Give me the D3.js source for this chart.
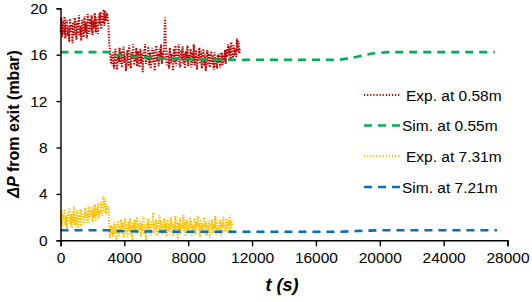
<!DOCTYPE html>
<html><head><meta charset="utf-8">
<script src="https://cdn.jsdelivr.net/npm/d3@7"></script>
<style>
html,body{margin:0;padding:0;background:#fff;}
svg{display:block;font-family:"Liberation Sans",Arial,sans-serif;}
</style></head>
<body><svg id="chart" width="532" height="302"></svg>
<script>
// ---- data ----
const xTicks = [0,4000,8000,12000,16000,20000,24000,28000];
const yTicks = [0,4,8,12,16,20];
const expStep = 50; // s between experimental samples
const expRed = [
18.0,19.2,17.5,18.9,17.8,19.3,17.4,18.7,19.0,17.6,
18.5,17.1,19.1,17.9,18.6,17.0,18.8,17.7,19.2,18.0,
17.3,18.9,17.8,19.4,17.6,18.5,17.2,19.0,18.1,17.5,
19.3,17.9,18.8,17.4,19.5,18.2,17.8,19.1,18.0,19.4,
17.7,18.9,18.3,19.6,17.9,19.2,18.4,17.8,19.5,18.6,
19.7,18.2,19.4,18.7,19.9,18.5,19.8,18.9,19.6,19.3,
18.6,17.0,16.4,15.2,16.0,
15.0,16.2,14.8,15.9,16.5,15.1,14.7,16.0,15.4,16.6,
15.2,16.3,14.9,15.8,16.7,15.3,16.1,14.6,15.7,16.4,
15.0,16.8,15.5,14.8,16.2,15.6,16.9,15.1,16.0,15.4,
16.6,15.0,16.3,15.7,14.9,16.5,15.3,16.1,14.5,16.4,
15.8,16.9,15.2,16.0,15.5,16.7,15.1,16.2,14.8,15.9,
16.6,15.3,16.4,14.6,15.8,16.8,15.4,16.1,15.0,16.5,
15.6,16.9,15.2,16.3,15.8,17.0,
19.2,16.4,
15.1,16.3,15.5,14.8,16.6,15.2,16.1,15.7,14.6,16.5,
15.3,16.8,15.0,16.2,15.6,16.9,15.1,14.9,16.4,15.5,
16.7,15.2,16.1,14.8,16.3,15.4,16.8,15.0,16.0,15.6,
16.5,14.9,16.2,15.3,16.9,15.1,15.8,16.4,14.7,16.0,
15.5,16.6,15.2,16.3,14.8,15.9,16.5,15.1,16.0,14.6,
15.7,16.4,15.0,16.1,14.9,15.8,16.3,15.2,15.9,14.7,
16.2,15.0,15.7,14.8,16.0,15.3,16.1,14.9,15.6,16.2,
15.1,16.0,15.4,16.4,15.2,16.5,
15.8,16.9,16.0,16.7,15.6,17.1,16.2,15.7,16.8,15.9,
16.5,15.8,17.4,16.3,17.2,16.1,16.6
];
const expYellow = [
1.5,2.6,1.2,2.3,1.8,2.7,1.3,2.1,1.0,2.4,
1.7,2.8,1.4,2.2,1.1,2.5,1.6,2.9,1.3,2.0,
1.2,2.6,1.0,2.2,1.5,2.7,1.1,2.3,1.8,2.5,
1.4,2.8,1.9,2.4,1.5,3.0,1.8,2.6,2.1,2.9,
1.6,2.7,2.0,3.1,1.7,2.8,2.2,3.2,1.9,2.6,
2.3,3.3,2.1,3.0,3.8,2.4,3.5,2.2,3.1,2.6,
2.9,1.4,0.2,1.3,0.5,
1.2,0.3,1.6,0.6,1.4,0.0,1.1,1.7,0.4,1.3,
0.7,1.8,0.5,1.5,0.2,1.2,1.9,0.6,1.4,0.3,
1.6,0.8,1.9,0.4,1.3,0.0,1.5,0.7,1.8,0.5,
1.2,2.0,0.6,1.4,0.9,1.7,0.3,1.5,0.8,2.1,
0.5,1.3,0.0,1.6,0.7,1.9,0.9,1.4,0.4,1.7,
1.1,2.4,0.6,1.5,0.8,1.8,0.4,1.6,1.0,2.2,
0.7,1.7,0.5,1.4,0.9,1.9,
0.6,1.5,
0.3,1.8,0.8,1.4,0.5,2.0,1.0,1.6,0.4,1.3,
0.9,2.1,0.6,1.7,0.0,1.5,0.8,1.9,0.5,1.4,
1.1,2.2,0.7,1.6,0.3,1.8,0.9,1.5,0.6,2.0,
1.0,1.7,0.4,1.3,0.8,1.9,0.5,1.6,1.2,2.1,
0.7,1.5,0.3,1.8,0.9,1.4,0.6,2.0,1.1,1.6,
0.4,1.3,0.8,1.7,0.2,1.5,0.9,1.8,0.6,1.4,
1.0,2.1,0.5,1.6,0.8,1.3,
0.9,1.8,0.4,1.5,1.1,2.0,0.7,1.4,0.9,1.9,
0.6,1.6,1.2,2.2,0.8,1.7,1.3
];
const simGreenT = [0,3000,3500,4500,6000,8000,10000,17500,18500,19500,20500,27200];
const simGreenV = [16.22,16.22,16.0,15.85,15.72,15.6,15.57,15.57,15.8,16.1,16.22,16.22];
const simBlueT  = [0,3000,3500,5000,8000,17500,18500,20000,27350];
const simBlueV  = [0.86,0.86,0.8,0.76,0.74,0.74,0.8,0.86,0.86];
const legendLabels = ["Exp. at 0.58m","Sim. at 0.55m","Exp. at 7.31m","Sim. at 7.21m"];
const colors = ["#C00000","#00B050","#FFC000","#0070C0"];

// ---- drawing ----
const svg = d3.select("#chart");
const x = d3.scaleLinear().domain([0,28000]).range([60.5,507.5]);
const y = d3.scaleLinear().domain([0,20]).range([240.3,8.3]);

const line = d3.line().x(d=>x(d[0])).y(d=>y(d[1]));
const redPts = expRed.map((v,i)=>[i*expStep,v]);
const yelPts = expYellow.map((v,i)=>[i*expStep,v]);
const greenPts = simGreenT.map((t,i)=>[t,simGreenV[i]]);
const bluePts = simBlueT.map((t,i)=>[t,simBlueV[i]]);

const dotted = {dash:"1.3,1.5", w:2.1};
const dashed = {dash:"8,6", w:2.6};
[[redPts,colors[0]],[yelPts,colors[2]]].forEach(([p,c])=>{
  svg.append("path").attr("d",line(p)).attr("fill","none")
    .attr("stroke",c).attr("stroke-width",dotted.w).attr("stroke-dasharray",dotted.dash);
});
[[greenPts,colors[1]],[bluePts,colors[3]]].forEach(([p,c])=>{
  svg.append("path").attr("d",line(p)).attr("fill","none")
    .attr("stroke",c).attr("stroke-width",dashed.w).attr("stroke-dasharray",dashed.dash);
});

// axes
const xAxis = svg.append("g").attr("transform","translate(0,240.3)")
  .call(d3.axisBottom(x).tickValues(xTicks).tickFormat(d3.format("d")).tickSizeOuter(0).tickSize(6).tickPadding(6));
const yAxis = svg.append("g").attr("transform","translate(60.5,0)")
  .call(d3.axisLeft(y).tickValues(yTicks).tickSizeOuter(0).tickSize(4).tickPadding(9));
[xAxis,yAxis].forEach(a=>{
  a.select(".domain").attr("stroke","#000").attr("stroke-width",1.4);
  a.selectAll(".tick line").attr("stroke","#000").attr("stroke-width",1.4);
  a.selectAll(".tick text").attr("fill","#000").style("font-size","15.5px")
   .style("font-family","'Liberation Sans',Arial,sans-serif");
});

// axis titles
svg.append("text").attr("x",282).attr("y",291).attr("text-anchor","middle")
  .style("font-size","18px").style("font-weight","bold").style("font-style","italic")
  .text("t (s)");
const yl = svg.append("text").attr("transform","translate(19,124) rotate(-90)")
  .attr("text-anchor","middle").style("font-size","16px").style("font-weight","bold");
yl.append("tspan").style("font-style","italic").text("ΔP");
yl.append("tspan").text(" from exit (mbar)");

// legend
const legY = [95,125.5,156,187];
const legDash = ["1.2,1.9","8,6","1.2,1.9","8,6"];
const legW = [1.8,2.6,1.8,2.6];
legendLabels.forEach((lab,i)=>{
  svg.append("line").attr("x1",364).attr("x2",401).attr("y1",legY[i]).attr("y2",legY[i])
    .attr("stroke",colors[i]).attr("stroke-width",legW[i])
    .attr("stroke-dasharray",legDash[i]);
  svg.append("text").attr("x",i%2===0?406:402).attr("y",legY[i]).attr("dy","0.36em")
    .style("font-size","15.5px").text(lab);
});
</script></body></html>
